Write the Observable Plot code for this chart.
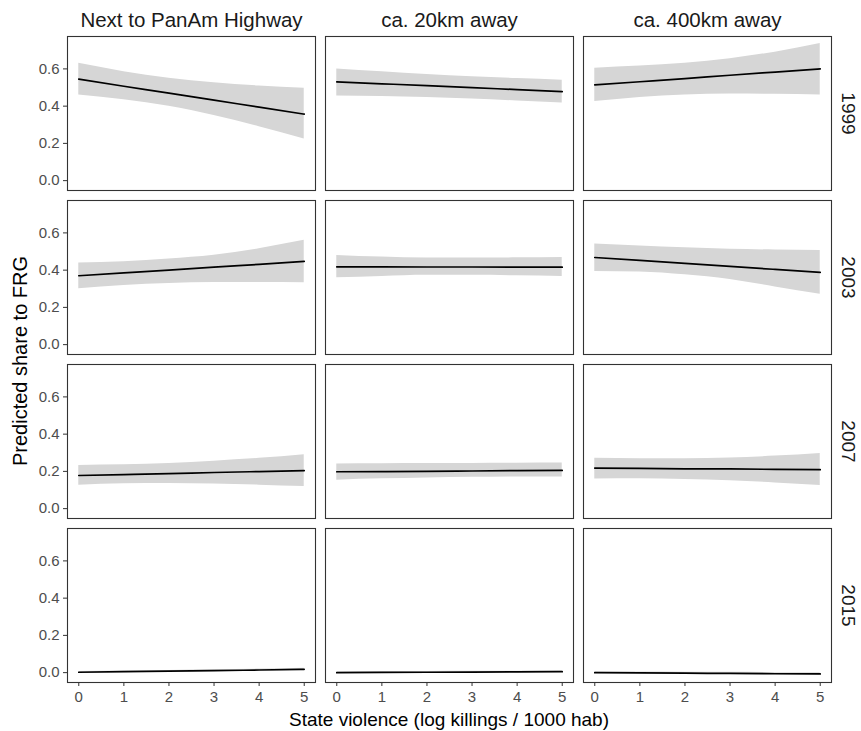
<!DOCTYPE html>
<html>
<head>
<meta charset="utf-8">
<script src="https://cdn.jsdelivr.net/npm/d3@7"></script>
<script src="https://cdn.jsdelivr.net/npm/@observablehq/plot@0.6"></script>
<style>
  body { margin: 0; background: #ffffff; }
  #chart svg { font-family: "Liberation Sans", Arial, Helvetica, sans-serif; display: block; }
</style>
</head>
<body>
<div id="chart"></div>
<script>
// Facet categories
const distances = ["Next to PanAm Highway", "ca. 20km away", "ca. 400km away"];
const years = ["1999", "2003", "2007", "2015"];
// x values (state violence) at which predictions are read
const xValues = [0, 1, 2, 3, 4, 5];
const xTicks = [0, 1, 2, 3, 4, 5];
const yTicks = [0, 0.2, 0.4, 0.6];

// Predicted share (fit) and CI bounds, per year: [PanAm, 20km, 400km]
const fit1999 = [[0.545, 0.507, 0.470, 0.432, 0.395, 0.357], [0.530, 0.520, 0.510, 0.499, 0.489, 0.478], [0.514, 0.531, 0.548, 0.566, 0.583, 0.600]];
const lo1999  = [[0.460, 0.435, 0.400, 0.350, 0.290, 0.224], [0.455, 0.452, 0.447, 0.438, 0.428, 0.417], [0.425, 0.447, 0.460, 0.465, 0.464, 0.460]];
const hi1999  = [[0.630, 0.585, 0.550, 0.525, 0.508, 0.496], [0.600, 0.585, 0.570, 0.558, 0.548, 0.539], [0.604, 0.615, 0.630, 0.655, 0.690, 0.736]];

const fit2003 = [[0.370, 0.385, 0.400, 0.416, 0.431, 0.447], [0.418, 0.418, 0.417, 0.417, 0.416, 0.416], [0.468, 0.452, 0.436, 0.420, 0.404, 0.388]];
const lo2003  = [[0.300, 0.318, 0.328, 0.333, 0.333, 0.332], [0.359, 0.366, 0.372, 0.372, 0.370, 0.366], [0.393, 0.390, 0.375, 0.350, 0.310, 0.270]];
const hi2003  = [[0.439, 0.445, 0.460, 0.480, 0.515, 0.560], [0.479, 0.470, 0.465, 0.465, 0.466, 0.468], [0.541, 0.530, 0.520, 0.512, 0.508, 0.506]];

const fit2007 = [[0.178, 0.183, 0.188, 0.194, 0.199, 0.204], [0.198, 0.199, 0.200, 0.202, 0.204, 0.205], [0.218, 0.216, 0.214, 0.213, 0.211, 0.209]];
const lo2007  = [[0.126, 0.133, 0.135, 0.132, 0.126, 0.119], [0.153, 0.160, 0.165, 0.168, 0.170, 0.170], [0.159, 0.160, 0.157, 0.150, 0.138, 0.124]];
const hi2007  = [[0.232, 0.235, 0.242, 0.255, 0.270, 0.290], [0.240, 0.241, 0.242, 0.243, 0.244, 0.245], [0.270, 0.268, 0.268, 0.272, 0.282, 0.296]];

const fit2015 = [[0.002, 0.005, 0.008, 0.011, 0.014, 0.018], [0.000, 0.001, 0.002, 0.003, 0.004, 0.005], [0.000, -0.001, -0.003, -0.004, -0.006, -0.007]];
const lo2015  = [[-0.002, 0.000, 0.003, 0.006, 0.009, 0.013], [-0.004, -0.003, -0.002, -0.001, 0.000, 0.001], [-0.004, -0.005, -0.008, -0.010, -0.012, -0.014]];
const hi2015  = [[0.006, 0.009, 0.012, 0.016, 0.019, 0.023], [0.004, 0.005, 0.006, 0.007, 0.008, 0.009], [0.004, 0.003, 0.002, 0.002, 0.000, -0.001]];

const fits = {"1999": fit1999, "2003": fit2003, "2007": fit2007, "2015": fit2015};
const los  = {"1999": lo1999,  "2003": lo2003,  "2007": lo2007,  "2015": lo2015};
const his  = {"1999": hi1999,  "2003": hi2003,  "2007": hi2007,  "2015": hi2015};

const rows = [];
for (const year of years) {
  distances.forEach((dist, j) => {
    xValues.forEach((x, i) => {
      rows.push({year, dist, x, fit: fits[year][j][i], lo: los[year][j][i], hi: his[year][j][i]});
    });
  });
}

const W = 861, H = 731;
const mL = 66, mR = 29, mT = 34, mB = 48;

const plot = Plot.plot({
  width: W,
  height: H,
  marginLeft: mL,
  marginRight: mR,
  marginTop: mT,
  marginBottom: mB,
  style: {background: "#ffffff", fontSize: "15px", fontFamily: "'Liberation Sans', Arial, sans-serif"},
  x: {domain: [-0.25, 5.25]},
  y: {domain: [-0.053, 0.774]},
  fx: {domain: distances, paddingInner: 0.039, paddingOuter: 0},
  fy: {domain: years, paddingInner: 0.061, paddingOuter: 0},
  marks: [
    Plot.areaY(rows, {x: "x", y1: "lo", y2: "hi", fx: "dist", fy: "year", fill: "#d6d6d6", curve: "monotone-x"}),
    Plot.line(rows, {x: "x", y: "fit", fx: "dist", fy: "year", stroke: "#000000", strokeWidth: 1.7, curve: "monotone-x"}),
    Plot.frame({stroke: "#333333", strokeWidth: 1.1}),
    Plot.axisX({ticks: xTicks, tickFormat: d3.format("d"), tickSize: 4, tickPadding: 5, label: null, stroke: "#333333", fill: "#4d4d4d", fontSize: 15}),
    Plot.axisY({ticks: yTicks, tickFormat: d3.format(".1f"), tickSize: 4, tickPadding: 4, label: null, stroke: "#333333", fill: "#4d4d4d", fontSize: 15}),
    Plot.axisFx({anchor: "top", tickSize: 0, tickPadding: 10, label: null, fill: "#1a1a1a", fontSize: 20.5}),
    Plot.axisFy({anchor: "right", tickSize: 0, tickPadding: 24, tickRotate: 90, label: null, fill: "#1a1a1a", fontSize: 19})
  ]
});

document.getElementById("chart").appendChild(plot);

// Axis titles
const svg = d3.select(plot);
svg.append("text")
  .attr("x", (mL + (W - mR)) / 2)
  .attr("y", 726)
  .attr("text-anchor", "middle")
  .attr("fill", "#000000")
  .style("font-size", "19px")
  .text("State violence (log killings / 1000 hab)");
svg.append("text")
  .attr("transform", `translate(27,361) rotate(-90)`)
  .attr("text-anchor", "middle")
  .attr("fill", "#000000")
  .style("font-size", "20px")
  .text("Predicted share to FRG");
</script>
</body>
</html>
